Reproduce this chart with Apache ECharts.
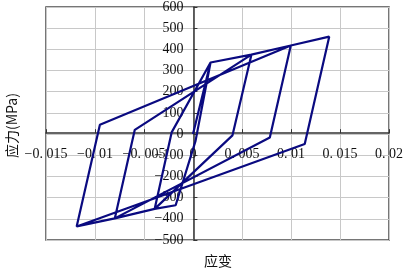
<!DOCTYPE html>
<html>
<head>
<meta charset="utf-8">
<script src="https://cdn.jsdelivr.net/npm/echarts@6/dist/echarts.min.js"></script>
<style>
html,body{margin:0;padding:0;background:#fff;}
#c{width:406px;height:271px;}
</style>
</head>
<body>
<div id="c"></div>
<script>
// Hysteresis path (strain, stress in MPa)
var strain = [0, 0.00179, 0.00026, -0.00177, -0.00391, -0.00218, 0.00179, 0.00596, 0.00403, -0.00391, -0.00798, -0.00594, 0.00596, 0.00998, 0.00784, -0.00798, -0.01187, -0.0095, 0.00998, 0.0139, 0.0114, -0.01187];
var stress = [0, 338, -32, -336, -353, 8, 338, 375, -6, -353, -398, 20, 375, 418, -16, -398, -436, 44, 418, 460, -47, -436];

var xTickValues = [-0.015, -0.01, -0.005, 0, 0.005, 0.01, 0.015, 0.02];
var xTickLabels = ['\u22120. 015', '\u22120. 01', '\u22120. 005', '0', '0. 005', '0. 01', '0. 015', '0. 02'];
var yTickValues = [-500, -400, -300, -200, -100, 0, 100, 200, 300, 400, 500, 600];
var yTickLabels = ['\u2212500', '\u2212400', '\u2212300', '\u2212200', '\u2212100', '0', '100', '200', '300', '400', '500', '600'];

var xTitle = '应变';
var yTitle = '应力(MPa)';

var pts = strain.map(function (s, i) { return [s, stress[i]]; });

function lookup(vals, labels, v) {
  for (var i = 0; i < vals.length; i++) {
    if (Math.abs(vals[i] - v) < 1e-9) return labels[i];
  }
  return '';
}

var G = {left: 46, top: 5, width: 344, height: 235};
var xMin = -0.015, xMax = 0.02, yMin = -500, yMax = 600;
// shift the axes so they sit on the zero lines
var yAxisShift = (0 - xMin) / (xMax - xMin) * G.width;
var xAxisShift = (0 - yMin) / (yMax - yMin) * G.height;

var chart = echarts.init(document.getElementById('c'), null, {renderer: 'canvas'});
chart.setOption({
  animation: false,
  backgroundColor: '#ffffff',
  grid: {
    left: G.left, top: G.top, width: G.width, height: G.height,
    show: true, borderColor: '#4a4a4a', borderWidth: 1.5, backgroundColor: 'transparent'
  },
  xAxis: {
    type: 'value', min: xMin, max: xMax, interval: 0.005, position: 'bottom', offset: -xAxisShift,
    axisLine: {onZero: false, lineStyle: {color: '#333', width: 1.5}},
    axisTick: {show: true, inside: true, length: 4, lineStyle: {color: '#333'}},
    splitLine: {show: true, lineStyle: {color: '#c8c8c8', width: 1}},
    axisLabel: {
      margin: 14, color: '#111', fontFamily: 'Liberation Serif', fontSize: 14,
      showMinLabel: true, showMaxLabel: true,
      formatter: function (v) { return lookup(xTickValues, xTickLabels, v); }
    }
  },
  yAxis: {
    type: 'value', min: yMin, max: yMax, interval: 100, position: 'left', offset: -yAxisShift,
    axisLine: {onZero: false, lineStyle: {color: '#333', width: 1.5}},
    axisTick: {show: true, inside: true, length: 4, lineStyle: {color: '#333'}},
    splitLine: {show: true, lineStyle: {color: '#c8c8c8', width: 1}},
    axisLabel: {
      margin: 10, color: '#111', fontFamily: 'Liberation Serif', fontSize: 14,
      showMinLabel: true, showMaxLabel: true,
      formatter: function (v) { return lookup(yTickValues, yTickLabels, v); }
    }
  },
  graphic: [
    {type: 'text', left: 204, top: 254, style: {text: xTitle, font: '14px "Noto Sans CJK SC"', fill: '#111'}},
    {type: 'text', x: 5, y: 158, rotation: Math.PI / 2,
     style: {text: yTitle, font: '14px "Noto Sans CJK SC"', fill: '#111'}}
  ],
  series: [{
    type: 'line', data: pts, showSymbol: false, smooth: false,
    lineStyle: {color: '#0a0a80', width: 2.2}, clip: true
  }]
});
</script>
</body>
</html>
